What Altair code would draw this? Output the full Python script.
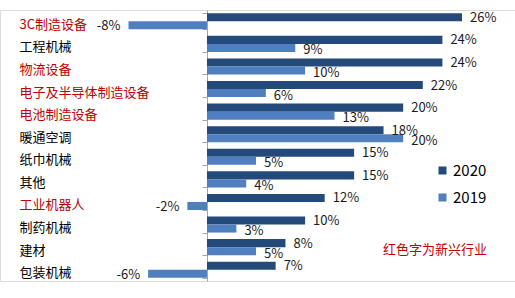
import altair as alt
import pandas as pd

categories = ["3C制造设备", "工程机械", "物流设备", "电子及半导体制造设备", "电池制造设备",
              "暖通空调", "纸巾机械", "其他", "工业机器人", "制药机械", "建材", "包装机械"]
growth_2020 = [26, 24, 24, 22, 20, 18, 15, 15, 12, 10, 8, 7]
growth_2019 = [-8, 9, 10, 6, 13, 20, 5, 4, -2, 3, 5, -6]
emerging = ["3C制造设备", "物流设备", "电子及半导体制造设备", "电池制造设备", "工业机器人"]
series = ["2020", "2019"]
colors = ["#244A7C", "#4F7FBE"]
note = "红色字为新兴行业"

rows = []
for c, a, b in zip(categories, growth_2020, growth_2019):
    rows.append({"cat": c, "year": "2020", "v": a})
    rows.append({"cat": c, "year": "2019", "v": b})
df = pd.DataFrame(rows)
df["label"] = df["v"].astype(str) + "%"

FONT = "Noto Sans CJK SC"
emerging_js = "[" + ",".join('"%s"' % e for e in emerging) + "]"

x = alt.X("v:Q", scale=alt.Scale(domain=[-21.1, 31.4], nice=False, zero=False), axis=None)
y = alt.Y(
    "cat:N", sort=categories,
    scale=alt.Scale(paddingInner=0.29, paddingOuter=0.145),
    axis=alt.Axis(
        title=None, offset=-207, domainColor="#A6A6A6", tickColor="#A6A6A6",
        tickBand="extent", tickSize=5, labelAlign="left", labelPadding=183,
        labelFont=FONT, labelFontSize=13, labelOffset=3,
        labelColor={"condition": {"test": "indexof(%s, datum.value) >= 0" % emerging_js,
                                  "value": "#C00000"}, "value": "#000000"},
    ),
)
yo = alt.YOffset("year:N", sort=series, scale=alt.Scale(paddingInner=0, paddingOuter=0))

base = alt.Chart(df)
bars = base.mark_bar().encode(
    x=x, x2=alt.datum(0), y=y, yOffset=yo,
    color=alt.Color("year:N", scale=alt.Scale(domain=series, range=colors),
                    legend=alt.Legend(orient="none", legendX=435, legendY=153, title=None,
                                      symbolType="square", symbolSize=64, labelFontSize=15,
                                      labelFont=FONT, rowPadding=11, labelOffset=3, padding=0,
                                      symbolStrokeWidth=0, labelColor="#000000")),
)
ycat = alt.Y("cat:N", sort=categories)


def labels(flt, align, dx, dy):
    return base.transform_filter(flt).mark_text(
        align=align, dx=dx, dy=dy, baseline="middle", font=FONT, fontSize=13, color="#1A1A1A"
    ).encode(x=x, y=ycat, yOffset=yo, text="label:N")


pos20 = labels("datum.v >= 0 && datum.year == '2020'", "left", 8, 0.5)
pos19 = labels("datum.v >= 0 && datum.year == '2019'", "left", 8, 2.5)
neg = labels("datum.v < 0", "right", -8, 1)

ann = alt.Chart(pd.DataFrame({"t": [note]})).mark_text(
    align="left", baseline="middle", font=FONT, fontSize=13, color="#C00000"
).encode(x=alt.value(383), y=alt.value(240), text="t:N")

chart = alt.layer(bars, pos20, pos19, neg, ann).properties(
    width=515, height=271, autosize="none",
    padding={"left": 0, "top": 10, "right": 0, "bottom": 17},
).configure_view(stroke=None).configure(background="white")

chart.save("out.html", embed_options={"renderer": "svg", "actions": False})
